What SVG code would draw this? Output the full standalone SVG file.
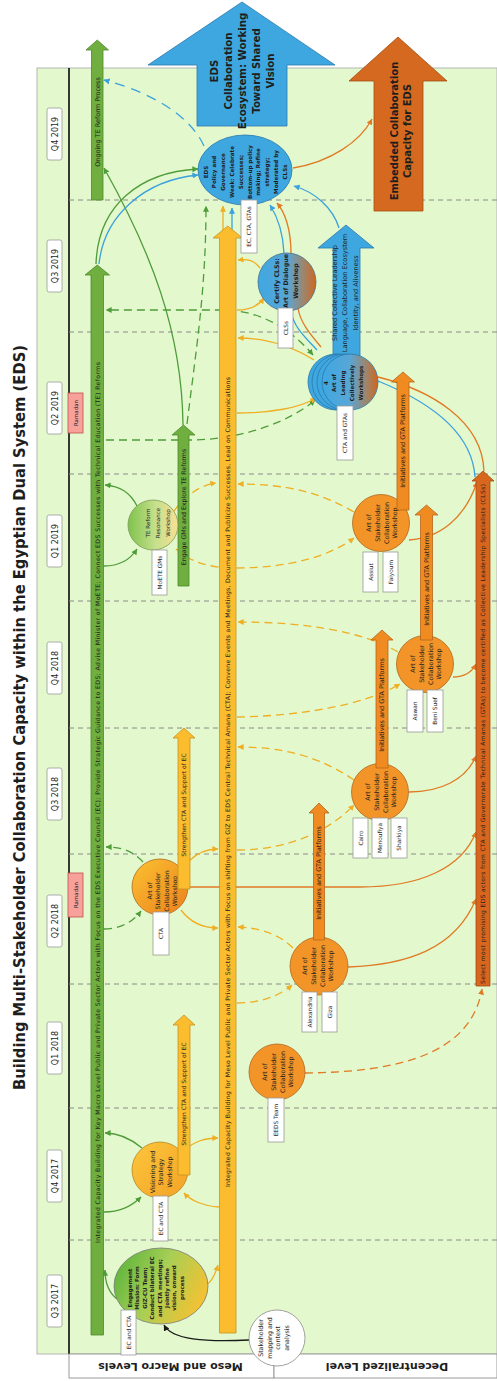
<svg xmlns="http://www.w3.org/2000/svg" width="497" height="1381" viewBox="0 0 497 1381">
<defs>
<style>
.t{font-family:"DejaVu Sans","Liberation Sans",sans-serif;fill:#1e1e1e}
.q{font-size:8px}
.lb{font-size:5.8px}
.bt{font-size:6.3px}
.sep{stroke:#8a8a8a;stroke-width:1;stroke-dasharray:5 4;fill:none}
.box{fill:#fff;stroke:#9a9a9a;stroke-width:0.8}
.c{fill:none;stroke-width:1.3}
.g{stroke:#4f9c3a}
.gd{stroke:#4f9c3a;stroke-dasharray:8 5}
.b{stroke:#3aa1dc}
.bd{stroke:#3aa1dc;stroke-dasharray:10 7}
.y{stroke:#f0ae22}
.yd{stroke:#f0ae22;stroke-dasharray:8 5}
.o{stroke:#e07a24}
.od{stroke:#e07a24;stroke-dasharray:8 5}
.k{stroke:#1a1a1a}
.grn{fill:#6fae3f;stroke:#4d8a2c;stroke-width:0.8}
.yel{fill:#fbbd2e;stroke:#c99320;stroke-width:0.8}
.org{fill:#f08b22;stroke:#b6651a;stroke-width:0.8}
.dorg{fill:#d8661d;stroke:#9e4b15;stroke-width:0.8}
.blu{fill:#3fa7e0;stroke:#2a78ab;stroke-width:0.8}
.ws{fill:#f29428;stroke:#b0681e;stroke-width:0.8}
</style>
<marker id="mg" viewBox="0 0 8 8" refX="7.5" refY="4" markerWidth="6" markerHeight="6" markerUnits="userSpaceOnUse" orient="auto-start-reverse"><path d="M0,0 L8,4 L0,8 z" fill="#4f9c3a"/></marker>
<marker id="mb" viewBox="0 0 8 8" refX="7.5" refY="4" markerWidth="6" markerHeight="6" markerUnits="userSpaceOnUse" orient="auto-start-reverse"><path d="M0,0 L8,4 L0,8 z" fill="#3aa1dc"/></marker>
<marker id="my" viewBox="0 0 8 8" refX="7.5" refY="4" markerWidth="6" markerHeight="6" markerUnits="userSpaceOnUse" orient="auto-start-reverse"><path d="M0,0 L8,4 L0,8 z" fill="#f0ae22"/></marker>
<marker id="mo" viewBox="0 0 8 8" refX="7.5" refY="4" markerWidth="6" markerHeight="6" markerUnits="userSpaceOnUse" orient="auto-start-reverse"><path d="M0,0 L8,4 L0,8 z" fill="#e07a24"/></marker>
<marker id="mk" viewBox="0 0 8 8" refX="7.5" refY="4" markerWidth="6" markerHeight="6" markerUnits="userSpaceOnUse" orient="auto-start-reverse"><path d="M0,0 L8,4 L0,8 z" fill="#1a1a1a"/></marker>
<linearGradient id="gBO" x1="0" y1="0" x2="1" y2="0"><stop offset="0" stop-color="#3ea8e2"/><stop offset="0.5" stop-color="#58a6d6"/><stop offset="0.8" stop-color="#a08468"/><stop offset="1" stop-color="#d0661e"/></linearGradient>
<linearGradient id="gEng" x1="0" y1="0.3" x2="1" y2="0.7"><stop offset="0" stop-color="#5fb53d"/><stop offset="0.45" stop-color="#a8cf55"/><stop offset="1" stop-color="#fbc02f"/></linearGradient>
<linearGradient id="gTE" x1="0" y1="0" x2="1" y2="0"><stop offset="0" stop-color="#7fc24c"/><stop offset="0.55" stop-color="#c5e08c"/><stop offset="1" stop-color="#fadf92"/></linearGradient>
<linearGradient id="gCTA" x1="0" y1="0" x2="1" y2="1"><stop offset="0" stop-color="#fbc231"/><stop offset="1" stop-color="#ec7f1c"/></linearGradient>
<linearGradient id="gVis" x1="0" y1="0" x2="1" y2="1"><stop offset="0" stop-color="#fcc63c"/><stop offset="1" stop-color="#f4a226"/></linearGradient>
</defs>

<g id="background">
<rect x="37" y="68" width="460" height="1286" fill="#e3f8cd" stroke="#b5b5b5" stroke-width="1"/>
<line x1="69" y1="68" x2="69" y2="1354" stroke="#222" stroke-width="1.8"/>
<path class="sep" d="M69,200H497M69,332H497M69,474H497M69,601H497M69,728H497M69,854H497M69,984H497M69,1108H497M69,1240H497"/>
<text class="t" transform="translate(24.5,717.5) rotate(-90)" text-anchor="middle" font-size="15" font-weight="bold" textLength="745" lengthAdjust="spacingAndGlyphs">Building Multi-Stakeholder Collaboration Capacity within the Egyptian Dual System (EDS)</text>
</g>

<g id="quarters">
<rect class="box" x="47" y="108" width="15" height="52" rx="2"/><text class="t q" transform="translate(57.5,134) rotate(-90)" text-anchor="middle">Q4 2019</text>
<rect class="box" x="47" y="240" width="15" height="52" rx="2"/><text class="t q" transform="translate(57.5,266) rotate(-90)" text-anchor="middle">Q3 2019</text>
<rect class="box" x="47" y="382" width="15" height="52" rx="2"/><text class="t q" transform="translate(57.5,408) rotate(-90)" text-anchor="middle">Q2 2019</text>
<rect class="box" x="47" y="515" width="15" height="52" rx="2"/><text class="t q" transform="translate(57.5,541) rotate(-90)" text-anchor="middle">Q1 2019</text>
<rect class="box" x="47" y="642" width="15" height="52" rx="2"/><text class="t q" transform="translate(57.5,668) rotate(-90)" text-anchor="middle">Q4 2018</text>
<rect class="box" x="47" y="768" width="15" height="52" rx="2"/><text class="t q" transform="translate(57.5,794) rotate(-90)" text-anchor="middle">Q3 2018</text>
<rect class="box" x="47" y="895" width="15" height="52" rx="2"/><text class="t q" transform="translate(57.5,921) rotate(-90)" text-anchor="middle">Q2 2018</text>
<rect class="box" x="47" y="1022" width="15" height="52" rx="2"/><text class="t q" transform="translate(57.5,1048) rotate(-90)" text-anchor="middle">Q1 2018</text>
<rect class="box" x="47" y="1150" width="15" height="52" rx="2"/><text class="t q" transform="translate(57.5,1176) rotate(-90)" text-anchor="middle">Q4 2017</text>
<rect class="box" x="47" y="1275" width="15" height="52" rx="2"/><text class="t q" transform="translate(57.5,1301) rotate(-90)" text-anchor="middle">Q3 2017</text>
<rect x="68" y="393" width="15" height="40" fill="#f7a19b" stroke="#c0504d" stroke-width="0.8"/><text class="t" font-size="5.5" transform="translate(77.5,413) rotate(-90)" text-anchor="middle">Ramadan</text>
<rect x="68" y="873" width="15" height="44" fill="#f7a19b" stroke="#c0504d" stroke-width="0.8"/><text class="t" font-size="5.5" transform="translate(77.5,895) rotate(-90)" text-anchor="middle">Ramadan</text>
</g>

<g id="levels">
<rect x="69" y="1354" width="205" height="24" fill="#fff" stroke="#9a9a9a"/>
<rect x="274" y="1354" width="223" height="24" fill="#fff" stroke="#9a9a9a"/>
<text class="t" font-size="11" font-weight="bold" transform="translate(170.5,1362.5) rotate(180)" text-anchor="middle">Meso and Macro Levels</text>
<text class="t" font-size="11" font-weight="bold" transform="translate(387,1362.5) rotate(180)" text-anchor="middle">Decentralized Level</text>
</g>

<g id="connectors">
<path class="c g" d="M117,1299 C108,1292 105,1283 105,1270" marker-end="url(#mg)"/>
<path class="c g" d="M104,1212 C120,1212 132,1206 141,1197" marker-end="url(#mg)"/>
<path class="c g" d="M142,1148 C130,1138 118,1133 105,1133" marker-end="url(#mg)"/>
<path class="c g" d="M137,506 C130,492 120,486 105,485" marker-end="url(#mg)"/>
<path class="c g" d="M104,566 C118,566 130,560 137,549" marker-end="url(#mg)"/>
<path class="c g" d="M183,425 C182,330 150,250 104,168" marker-end="url(#mg)"/>
<path class="c g" d="M96,264 C98,205 140,172 198,169" marker-end="url(#mg)"/>
<path class="c b" d="M99,264 C104,215 145,180 198,175" marker-end="url(#mb)"/>
<path class="c gd" d="M187,424 C196,350 206,290 206,206" marker-end="url(#mg)"/>
<path class="c gd" d="M313,355 C292,330 262,311 225,310 L106,310" marker-start="url(#mg)" marker-end="url(#mg)"/>
<path class="c gd" d="M106,440 L190,440 C240,440 290,422 315,400" marker-end="url(#mg)"/>
<path class="c gd" d="M143,862 C132,850 120,847 106,847" marker-end="url(#mg)"/>
<path class="c gd" d="M104,929 C120,929 133,922 141,911" marker-end="url(#mg)"/>
<path class="c bd" d="M204,146 C190,115 150,92 104,80" marker-end="url(#mb)"/>
<path class="c b" d="M284,253 C283,232 277,216 270,205" marker-end="url(#mb)"/>
<path class="c o" d="M291,253 C291,230 285,212 277,203" marker-end="url(#mo)"/>
<path class="c b" d="M232,240 L232,208" marker-end="url(#mb)"/>
<path class="c y" d="M223,232 L223,206" marker-end="url(#my)"/>
<path class="c b" d="M339,228 C333,208 315,192 294,186" marker-end="url(#mb)"/>
<path class="c o" d="M293,168 C330,162 360,142 372,119" marker-end="url(#mo)"/>
<path class="c b" d="M317,350 C305,337 294,328 291,311"/>
<path class="c o" d="M321,347 C310,334 300,322 298,308"/>
<path class="c o" d="M378,377 C430,390 482,420 484,471"/>
<path class="c b" d="M378,381 C425,400 472,430 475,477"/>
<path class="c y" d="M260,268 C254,260 248,259 238,260" marker-end="url(#my)"/>
<path class="c y" d="M237,310 C250,310 259,305 264,298" marker-end="url(#my)"/>
<path class="c y" d="M314,360 C290,345 265,338 238,338" marker-end="url(#my)"/>
<path class="c y" d="M237,413 C270,413 300,408 316,398" marker-end="url(#my)"/>
<path class="c y" d="M206,1285 C212,1282 215,1275 218,1265" marker-end="url(#my)"/>
<path class="c y" d="M219,1207 C203,1206 190,1200 184,1193" marker-end="url(#my)"/>
<path class="c y" d="M183,1151 C195,1141 205,1138 218,1138" marker-end="url(#my)"/>
<path class="c y" d="M189,861 C198,852 207,849 218,849" marker-end="url(#my)"/>
<path class="c y" d="M181,910 C190,922 202,928 218,928" marker-end="url(#my)"/>
<path class="c yd" d="M293,948 C280,935 262,928 238,927" marker-end="url(#my)"/>
<path class="c yd" d="M237,1003 C260,1003 280,996 292,985" marker-end="url(#my)"/>
<path class="c yd" d="M354,780 C320,757 285,747 238,747" marker-end="url(#my)"/>
<path class="c yd" d="M237,850 C290,850 330,830 354,805" marker-end="url(#my)"/>
<path class="c yd" d="M398,652 C360,630 300,622 238,622" marker-end="url(#my)"/>
<path class="c yd" d="M237,717 C300,716 365,705 400,684" marker-end="url(#my)"/>
<path class="c yd" d="M354,512 C320,492 285,484 238,484" marker-end="url(#my)"/>
<path class="c yd" d="M174,511 C185,496 200,485 216,483" marker-end="url(#my)"/>
<path class="c yd" d="M176,549 C190,562 210,568 235,568 C290,568 330,556 354,538" marker-end="url(#my)"/>
<path class="c o" d="M188,887 L360,887 C420,887 462,868 476,832" marker-end="url(#mo)"/>
<path class="c o" d="M348,967 C405,965 455,950 476,899" marker-end="url(#mo)"/>
<path class="c o" d="M409,792 C440,792 466,780 476,756" marker-end="url(#mo)"/>
<path class="c o" d="M453,677 C465,677 472,672 476,664" marker-end="url(#mo)"/>
<path class="c o" d="M409,540 C440,538 465,518 477,482" marker-end="url(#mo)"/>
<path class="c od" d="M305,1073 C385,1072 470,1060 482,989" marker-end="url(#mo)"/>
<path class="c k" d="M249,1340 C205,1342 172,1340 164,1325" marker-end="url(#mk)"/>
</g>

<g id="macro-bar">
<path class="grn" d="M91,1335 V275 H85 L97.25,265 L109.5,275 H103.5 V1335 Z"/>
<text class="t" font-size="6.2" transform="translate(99.5,802.5) rotate(-90)" text-anchor="middle" textLength="881">Integrated Capacity Building for Key Macro Level Public and Private Sector Actors with Focus on the EDS Executive Council (EC); Provide Strategic Guidance to EDS; Advise Minister of MoETE; Connect EDS Successes with Technical Education (TE) Reforms</text>
</g>
<g id="ongoing-te">
<path class="grn" d="M91.5,200 V50 H86 L97.25,40 L108.5,50 H103 V200 Z"/>
<text class="t" font-size="6.5" transform="translate(99.6,122) rotate(-90)" text-anchor="middle">Ongoing TE Reform Process</text>
</g>
<g id="meso-bar">
<path class="yel" d="M219.5,1333 V238 H213 L227.75,226 L242.5,238 H236 V1333 Z"/>
<text class="t" font-size="6.2" transform="translate(230,782) rotate(-90)" text-anchor="middle" textLength="810">Integrated Capacity Building for Meso Level Public and Private Sector Actors with Focus on shifting from GIZ to EDS Central Technical Amana (CTA); Convene Events and Meetings, Document and Publicize Successes, Lead on Communications</text>
</g>
<g id="select-bar">
<path class="dorg" d="M476,986 V481 H472 L483,471 L494,481 H490 V986 Z"/>
<text class="t" font-size="6" transform="translate(485.2,734) rotate(-90)" text-anchor="middle" textLength="500">Select most promising EDS actors from CTA and Governorate Technical Amanas (GTAs) to become certified as Collective Leadership Specialists (CLSs)</text>
</g>
<g id="ecosystem-arrow">
<path class="blu" d="M197,126 V65 H148 L242,2 L335,65 H287 V126 Z"/>
<g transform="translate(242,71) rotate(-90)" class="t" font-size="10.2" font-weight="bold" text-anchor="middle">
<text y="-24.5">EDS</text><text y="-10.5">Collaboration</text><text y="4">Ecosystem: Working</text><text y="18">Toward Shared</text><text y="32">Vision</text>
</g>
</g>
<g id="embedded-arrow">
<path fill="#d5691f" stroke="#a24e13" stroke-width="0.8" d="M374,211 V81 H349 L398,37 L447,81 H423 V211 Z"/>
<g transform="translate(398,131) rotate(-90)" class="t" font-size="10" font-weight="bold" text-anchor="middle">
<text y="-0.5">Embedded Collaboration</text><text y="13">Capacity for EDS</text>
</g>
</g>
<g id="shared-language-arrow">
<path class="blu" d="M333,358 V248 H318 L346,225 L374,248 H360 V358 Z"/>
<g transform="translate(346,293) rotate(-90)" class="t" font-size="6.6" text-anchor="middle">
<text y="-9.5">Shared Collective Leadership</text><text y="1">Language, Collaboration Ecosystem</text><text y="11.5">Identity, and Aliveness</text>
</g>
</g>
<g id="engage-gms">
<path class="grn" d="M178,586 V435 H172 L183.5,425 L195,435 H189 V586 Z"/>
<text class="t" font-size="6.3" transform="translate(185.8,507) rotate(-90)" text-anchor="middle">Engage GMs and Explore TE Reforms</text>
</g>

<g id="eds-policy">
<ellipse cx="245" cy="170" rx="47" ry="35" class="blu"/>
<g transform="translate(245,172) rotate(-90)" class="t" font-size="5.6" font-weight="bold" text-anchor="middle">
<text y="-37.5">EDS</text><text y="-28.7">Policy and</text><text y="-19.9">Governance</text><text y="-11.1">Week: Celebrate</text><text y="-2.3">Successes;</text><text y="6.5">Bottom-up policy</text><text y="15.3">making; Refine</text><text y="24.1">strategy;</text><text y="32.9">Moderated by</text><text y="41.7">CLSs</text>
</g>
<rect class="box" x="241" y="200" width="16" height="53"/><text class="t lb" transform="translate(251,226.5) rotate(-90)" text-anchor="middle">EC, CTA, GTAs</text>
</g>

<g id="certify-clss">
<circle cx="287" cy="282" r="29" fill="url(#gBO)" stroke="#4a6f88" stroke-width="0.8"/>
<g transform="translate(286,281) rotate(-90)" class="t" font-size="6.3" font-weight="bold" text-anchor="middle">
<text y="-7.5">Certify CLSs:</text><text y="2">Art of Dialogue</text><text y="11.5">Workshop</text>
</g>
<rect class="box" x="278" y="308" width="15" height="40"/><text class="t lb" transform="translate(287.5,328) rotate(-90)" text-anchor="middle">CLSs</text>
</g>

<g id="leading-collectively">
<circle cx="336" cy="382" r="28" class="blu"/>
<circle cx="340" cy="382" r="28" class="blu"/>
<circle cx="345" cy="382" r="28" class="blu"/>
<circle cx="350" cy="382" r="28" fill="url(#gBO)" stroke="#2a78ab" stroke-width="0.8"/>
<g transform="translate(345,383) rotate(-90)" class="t" font-size="5.6" font-weight="bold" text-anchor="middle">
<text y="-17.5">4</text><text y="-8.7">Art of</text><text y="0.1">Leading</text><text y="8.9">Collectively</text><text y="17.7">Workshops</text>
</g>
<rect class="box" x="337" y="406" width="16" height="54"/><text class="t lb" transform="translate(347,433) rotate(-90)" text-anchor="middle">CTA and GTAs</text>
</g>

<g id="te-reform-workshop">
<circle cx="153" cy="525" r="25" fill="url(#gTE)" stroke="#7d9a5a" stroke-width="0.8"/>
<g transform="translate(160,523) rotate(-90)" class="t" font-size="5.6" text-anchor="middle">
<text y="-10">TE Reform</text><text y="0">Resonance</text><text y="10">Workshop</text>
</g>
<rect class="box" x="152" y="550" width="15" height="45"/><text class="t lb" transform="translate(161.5,572.5) rotate(-90)" text-anchor="middle">MoETE GMs</text>
</g>

<g id="engagement-mission">
<ellipse cx="161" cy="1286" rx="47" ry="38" fill="url(#gEng)" stroke="#7a7a7a" stroke-width="0.8"/>
<g transform="translate(155,1288) rotate(-90)" class="t" font-size="5.5" font-weight="bold" text-anchor="middle">
<text y="-23">Engagement</text><text y="-15.6">Mission: Form</text><text y="-8.2">GIZ-CU Team;</text><text y="-0.8">Conduct bilateral EC</text><text y="6.6">and CTA meetings;</text><text y="14">Jointly refine</text><text y="21.4">vision, onward</text><text y="28.8">process</text>
</g>
<rect class="box" x="121" y="1310" width="15" height="45"/><text class="t lb" transform="translate(130.5,1332.5) rotate(-90)" text-anchor="middle">EC and CTA</text>
</g>

<g id="stakeholder-mapping">
<circle cx="277" cy="1338" r="28" fill="#fff" stroke="#8a8a8a" stroke-width="0.8"/>
<g transform="translate(276,1338) rotate(-90)" class="t" font-size="6.3" text-anchor="middle">
<text y="-13">Stakeholder</text><text y="-4.3">mapping and</text><text y="4.3">context</text><text y="13">analysis</text>
</g>
</g>

<g id="visioning-workshop">
<circle cx="160" cy="1170" r="28" fill="url(#gVis)" stroke="#b9841e" stroke-width="0.8"/>
<g transform="translate(163,1172) rotate(-90)" class="t" font-size="6.3" text-anchor="middle">
<text y="-8.5">Visioning and</text><text y="0">Strategy</text><text y="8.5">Workshop</text>
</g>
<rect class="box" x="153" y="1196" width="15" height="45"/><text class="t lb" transform="translate(162.5,1218.5) rotate(-90)" text-anchor="middle">EC and CTA</text>
</g>

<g id="cta-workshop">
<circle cx="160" cy="887" r="28" fill="url(#gCTA)" stroke="#b0681e" stroke-width="0.8"/>
<g transform="translate(164,891) rotate(-90)" class="t" font-size="6.2" text-anchor="middle">
<text y="-12.5">Art of</text><text y="-4">Stakeholder</text><text y="4.5">Collaboration</text><text y="13">Workshop</text>
</g>
<rect class="box" x="153" y="912" width="16" height="43"/><text class="t lb" transform="translate(163,933.5) rotate(-90)" text-anchor="middle">CTA</text>
</g>

<g id="eeds-workshop">
<circle cx="277" cy="1072" r="28" class="ws"/>
<g transform="translate(280,1072) rotate(-90)" class="t" font-size="6.3" text-anchor="middle">
<text y="-13">Art of</text><text y="-4.5">Stakeholder</text><text y="4.5">Collaboration</text><text y="13">Workshop</text>
</g>
<rect class="box" x="268" y="1098" width="16" height="44"/><text class="t lb" transform="translate(278,1120) rotate(-90)" text-anchor="middle">EEDS Team</text>
</g>

<g id="alexandria-workshop">
<circle cx="319" cy="966" r="29" class="ws"/>
<g transform="translate(320,966) rotate(-90)" class="t" font-size="6.3" text-anchor="middle">
<text y="-13">Art of</text><text y="-4.5">Stakeholder</text><text y="4.5">Collaboration</text><text y="13">Workshop</text>
</g>
<rect class="box" x="302" y="992" width="15" height="40"/><text class="t lb" transform="translate(311.5,1012) rotate(-90)" text-anchor="middle">Alexandria</text>
<rect class="box" x="322" y="992" width="15" height="40"/><text class="t lb" transform="translate(331.5,1012) rotate(-90)" text-anchor="middle">Giza</text>
</g>

<g id="cairo-workshop">
<circle cx="380" cy="792" r="28.5" class="ws"/>
<g transform="translate(383,792) rotate(-90)" class="t" font-size="6.3" text-anchor="middle">
<text y="-13">Art of</text><text y="-4.5">Stakeholder</text><text y="4.5">Collaboration</text><text y="13">Workshop</text>
</g>
<rect class="box" x="353" y="818" width="15" height="40"/><text class="t lb" transform="translate(362.5,838) rotate(-90)" text-anchor="middle">Cairo</text>
<rect class="box" x="372" y="818" width="16" height="40"/><text class="t lb" transform="translate(382,838) rotate(-90)" text-anchor="middle">Menoufiya</text>
<rect class="box" x="391" y="818" width="16" height="40"/><text class="t lb" transform="translate(401,838) rotate(-90)" text-anchor="middle">Sharkiya</text>
</g>

<g id="aswan-workshop">
<circle cx="425" cy="664" r="28.5" class="ws"/>
<g transform="translate(428,664) rotate(-90)" class="t" font-size="6.3" text-anchor="middle">
<text y="-13">Art of</text><text y="-4.5">Stakeholder</text><text y="4.5">Collaboration</text><text y="13">Workshop</text>
</g>
<rect class="box" x="407" y="690" width="16" height="42"/><text class="t lb" transform="translate(417,711) rotate(-90)" text-anchor="middle">Aswan</text>
<rect class="box" x="427" y="690" width="16" height="42"/><text class="t lb" transform="translate(437,711) rotate(-90)" text-anchor="middle">Beni Suef</text>
</g>

<g id="assiut-workshop">
<circle cx="381" cy="523" r="28.5" class="ws"/>
<g transform="translate(384,523) rotate(-90)" class="t" font-size="6.3" text-anchor="middle">
<text y="-13">Art of</text><text y="-4.5">Stakeholder</text><text y="4.5">Collaboration</text><text y="13">Workshop</text>
</g>
<rect class="box" x="363" y="552" width="15" height="40"/><text class="t lb" transform="translate(372.5,572) rotate(-90)" text-anchor="middle">Assiut</text>
<rect class="box" x="383" y="552" width="15" height="40"/><text class="t lb" transform="translate(392.5,572) rotate(-90)" text-anchor="middle">Faiyoum</text>
</g>

<g id="strengthen-upper">
<path class="yel" d="M178,889 V738 H173 L184,728 L195,738 H190 V889 Z"/>
<text class="t" font-size="6" transform="translate(186.2,805) rotate(-90)" text-anchor="middle">Strengthen CTA and Support of EC</text>
</g>
<g id="strengthen-lower">
<path class="yel" d="M178,1175 V1025 H173 L184,1015 L195,1025 H190 V1175 Z"/>
<text class="t" font-size="6" transform="translate(186.2,1094) rotate(-90)" text-anchor="middle">Strengthen CTA and Support of EC</text>
</g>
<g id="initiatives-alexandria">
<path class="org" d="M313.5,940 V813 H309 L319,803 L329,813 H324.5 V940 Z"/>
<text class="t" font-size="6.5" transform="translate(321.3,873) rotate(-90)" text-anchor="middle">Initiatives and GTA Platforms</text>
</g>
<g id="initiatives-cairo">
<path class="org" d="M376,768 V640 H371 L382,630 L393,640 H388 V768 Z"/>
<text class="t" font-size="6.5" transform="translate(384.3,705) rotate(-90)" text-anchor="middle">Initiatives and GTA Platforms</text>
</g>
<g id="initiatives-aswan">
<path class="org" d="M420.5,640 V515 H415 L426.5,505 L438,515 H432.5 V640 Z"/>
<text class="t" font-size="6.5" transform="translate(428.8,579) rotate(-90)" text-anchor="middle">Initiatives and GTA Platforms</text>
</g>
<g id="initiatives-assiut">
<path class="org" d="M397,510 V382 H391.5 L403,372 L414.5,382 H409 V510 Z"/>
<text class="t" font-size="6.5" transform="translate(405.3,441) rotate(-90)" text-anchor="middle">Initiatives and GTA Platforms</text>
</g>
</svg>
